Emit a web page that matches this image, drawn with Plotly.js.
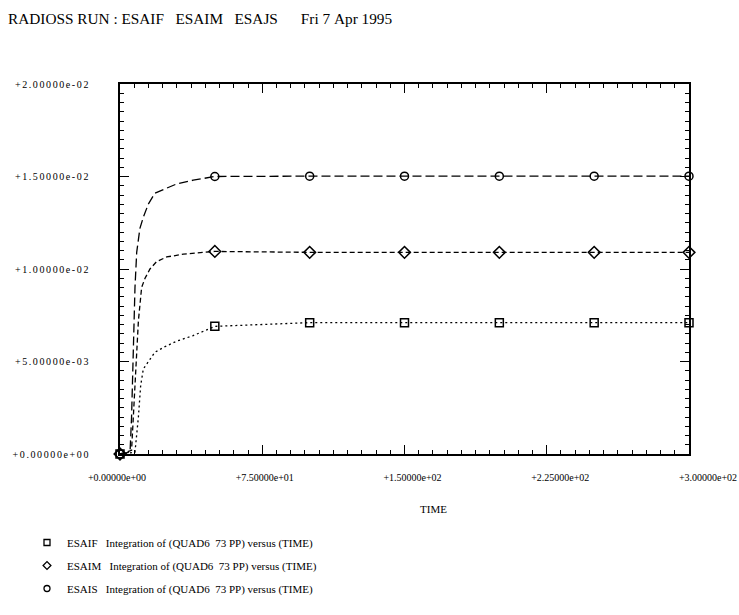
<!DOCTYPE html>
<html><head><meta charset="utf-8">
<script src="https://cdn.plot.ly/plotly-3.0.1.min.js"></script>
<style>
body{margin:0;background:#fff}
#chart{width:739px;height:615px}
.ytick text{letter-spacing:1.6px}
</style></head><body><div id="chart"></div>
<script>
const titleText = "RADIOSS RUN : ESAIF   ESAIM   ESAJS      Fri 7 Apr 1995";
const xTickVals = [0, 75, 150, 225, 300];
const xTickText = ["+0.00000e+00", "+7.50000e+01", "+1.50000e+02", "+2.25000e+02", "+3.00000e+02"];
const yTickVals = [0, 0.005, 0.01, 0.015, 0.02];
const yTickText = ["+0.00000e+00", "+5.00000e-03", "+1.00000e-02", "+1.50000e-02", "+2.00000e-02"];
const xAxisTitle = "TIME";
const seriesNames = ["ESAIF", "ESAIM", "ESAIS"];
const legendSuffix = "Integration of (QUAD6  73 PP) versus (TIME)";
const markerTimes = [0, 50, 100, 150, 200, 250, 300];

const esaifTime  = [0, 7.9, 9.7, 10.9, 12.3, 14.9, 18.4, 23.7, 29.9, 38.6, 47.4, 50, 100, 150, 200, 250, 300];
const esaifValue = [0, 0.0001, 0.0020, 0.0037, 0.0046, 0.0050, 0.0055, 0.0058, 0.0061, 0.0064, 0.0068, 0.0069, 0.0071, 0.0071, 0.0071, 0.0071, 0.0071];
const esaimTime  = [0, 6.1, 7.9, 9.7, 11.4, 13.2, 15.8, 19.3, 24.6, 33.4, 43.9, 50, 100, 150, 200, 250, 300];
const esaimValue = [0, 0.0002, 0.0037, 0.0072, 0.0090, 0.0095, 0.0100, 0.0104, 0.01065, 0.0108, 0.0109, 0.01095, 0.0109, 0.0109, 0.0109, 0.0109, 0.0109];
const esaisTime  = [0, 5.3, 6.1, 7.0, 7.9, 8.8, 10.5, 12.3, 14.9, 18.4, 22.8, 29.9, 38.6, 47.4, 50, 100, 150, 200, 250, 300];
const esaisValue = [0, 0.0001, 0.0020, 0.0055, 0.0090, 0.0109, 0.0122, 0.0128, 0.0135, 0.0141, 0.0143, 0.0146, 0.0148, 0.01495, 0.0150, 0.01502, 0.01502, 0.01502, 0.01502, 0.01502];

const nb = s => s.replace(/ /g, '\u00a0');
const FONT = 'Liberation Serif, Times New Roman, serif';

const series = [
  {name: seriesNames[0], t: esaifTime, v: esaifValue, dash: '2px,3px', symbol: 'square-open', size: 8},
  {name: seriesNames[1], t: esaimTime, v: esaimValue, dash: '5px,3px', symbol: 'diamond-open', size: 9},
  {name: seriesNames[2], t: esaisTime, v: esaisValue, dash: '9px,4px', symbol: 'circle-open', size: 8}
];

const traces = [];
series.forEach(s => {
  traces.push({
    x: s.t, y: s.v, type: 'scatter', mode: 'lines',
    line: {color: '#000', width: 1.3, dash: s.dash},
    showlegend: false, hoverinfo: 'skip', cliponaxis: false
  });
});
series.forEach((s, i) => {
  const mx = [], my = [];
  markerTimes.forEach(mt => {
    const k = s.t.indexOf(mt);
    if (k >= 0) { mx.push(s.t[k]); my.push(s.v[k]); }
  });
  traces.push({
    x: mx, y: my, type: 'scatter', mode: 'markers', showlegend: false,
    marker: {symbol: s.symbol, size: s.size, color: '#000', line: {color: '#000', width: 1.5}},
    cliponaxis: false
  });
});
// legend entries (small symbols, as in the printed key)
series.forEach((s, i) => {
  traces.push({
    x: [null], y: [null], type: 'scatter', mode: 'markers',
    name: nb(s.name + '   ' + legendSuffix), legendgroup: 'g' + i,
    marker: {symbol: s.symbol, size: 6, color: '#000', line: {color: '#000', width: 1.3}}
  });
});
// carrier for the printed tick-label row (labels sit on their own axis)
traces.push({x: xTickVals, y: xTickVals.map(() => null), xaxis: 'x2', yaxis: 'y2',
  type: 'scatter', mode: 'markers', showlegend: false, hoverinfo: 'skip'});

const axisCommon = {
  showgrid: false, zeroline: false, showline: true, mirror: 'allticks',
  linecolor: '#000', linewidth: 2, ticks: 'inside', ticklen: 9, tickwidth: 1, tickcolor: '#000',
  tickmode: 'array', fixedrange: true,
  tickfont: {family: FONT, size: 10, color: '#000'}
};

const L = 117, R = 708, W = R - L;
const layout = {
  width: 739, height: 615,
  paper_bgcolor: '#fff', plot_bgcolor: 'rgba(0,0,0,0)',
  margin: {l: L, r: 739 - R, t: 84, b: 151},
  title: {text: nb(titleText), x: 8 / 739, xanchor: 'left', xref: 'container',
          y: 1 - 19 / 615, yref: 'container', yanchor: 'middle',
          font: {family: FONT, size: 15.3, color: '#000'}},
  xaxis: Object.assign({}, axisCommon, {
    domain: [(120 - L) / W, (689 - L) / W], anchor: 'y',
    range: [0, 300], tickvals: xTickVals, showticklabels: false,
    minor: {tickmode: 'linear', tick0: 0, dtick: 7.5, ticks: 'inside', ticklen: 4, tickwidth: 1, tickcolor: '#000', showgrid: false}
  }),
  yaxis: Object.assign({}, axisCommon, {
    anchor: 'x', domain: [0, 1],
    range: [0, 0.02], tickvals: yTickVals, ticktext: yTickText, ticklabelstandoff: 26,
    minor: {tickmode: 'linear', tick0: 0, dtick: 0.0005, ticks: 'inside', ticklen: 4, tickwidth: 1, tickcolor: '#000', showgrid: false}
  }),
  xaxis2: {
    domain: [0, 1], anchor: 'y2', range: [0, 300], fixedrange: true,
    showgrid: false, zeroline: false, showline: false, ticks: '',
    tickmode: 'array', tickvals: xTickVals, ticktext: xTickText, ticklabelstandoff: 16,
    ticklabeloverflow: 'allow',
    tickfont: {family: FONT, size: 10, color: '#000'}
  },
  yaxis2: {domain: [0, 1], anchor: 'x2', range: [0, 0.02], visible: false, fixedrange: true},
  showlegend: true,
  legend: {x: (27 - L) / W, xanchor: 'left', y: -0.2, yanchor: 'top', bgcolor: 'rgba(0,0,0,0)',
           font: {family: FONT, size: 11, color: '#000'}, tracegroupgap: 4, traceorder: 'grouped'},
  annotations: [{
    text: xAxisTitle, xref: 'paper', yref: 'paper', x: (433 - L) / W, y: (464 - 520) / 380,
    xanchor: 'center', yanchor: 'middle', showarrow: false,
    font: {family: FONT, size: 11, color: '#000'}
  }]
};

Plotly.newPlot('chart', traces, layout, {displayModeBar: false, staticPlot: true});
</script></body></html>
